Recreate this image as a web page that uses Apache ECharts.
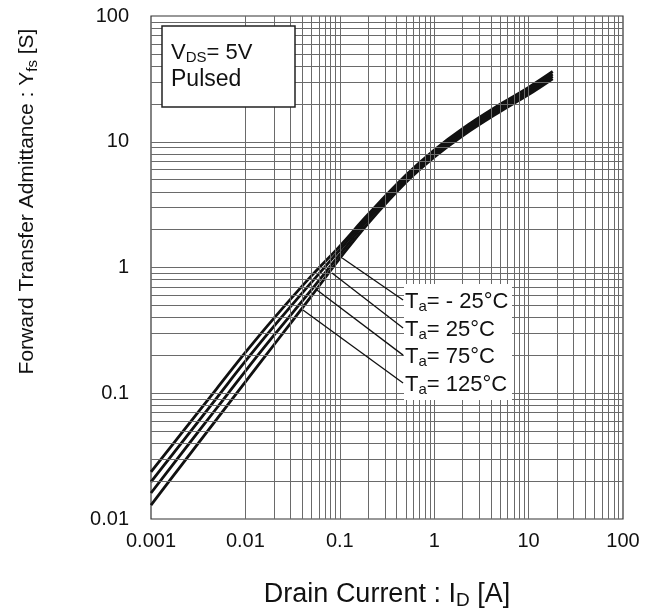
<!DOCTYPE html>
<html>
<head>
<meta charset="utf-8">
<script src="https://cdn.jsdelivr.net/npm/echarts@6/dist/echarts.min.js"></script>
<style>
html,body{margin:0;padding:0;background:#fff;}
#chart{width:656px;height:615px;}
</style>
</head>
<body>
<div id="chart"></div>
<script>
// Drain current I_D [A]
const drainCurrent = [0.001, 0.002, 0.005, 0.01, 0.02, 0.05, 0.1, 0.2, 0.5, 1, 2, 5, 10, 18];
// Forward transfer admittance Yfs [S] per ambient temperature
const yfsMinus25 = [0.0237, 0.0458, 0.1094, 0.211, 0.394, 0.857, 1.48, 2.65, 5.41, 8.6, 12.73, 19.85, 27.07, 36.2];
const yfs25      = [0.0197, 0.0383, 0.0924, 0.1797, 0.340, 0.761, 1.38, 2.53, 5.17, 8.22, 12.16, 18.96, 25.86, 34.5];
const yfs75      = [0.0161, 0.0316, 0.0767, 0.150, 0.288, 0.664, 1.27, 2.40, 4.95, 7.87, 11.64, 18.15, 24.76, 33.07];
const yfs125     = [0.0129, 0.0255, 0.0625, 0.1233, 0.242, 0.591, 1.18, 2.25, 4.74, 7.54, 11.15, 17.39, 23.71, 31.68];
const seriesNames = ['Ta= -25°C', 'Ta= 25°C', 'Ta= 75°C', 'Ta= 125°C'];
const labelTexts = ['T{s|a}= - 25°C', 'T{s|a}= 25°C', 'T{s|a}= 75°C', 'T{s|a}= 125°C'];
// leader lines (data coordinates): start on curve bundle, end at label
const leaderStart = [[0.106, 1.19], [0.0826, 0.904], [0.0573, 0.662], [0.0407, 0.459]];
const leaderEnd   = [[0.468, 0.552], [0.468, 0.330], [0.468, 0.201], [0.468, 0.1207]];
// tick labels
const xTickLabels = ['0.001', '0.01', '0.1', '1', '10', '100'];
const yTickLabels = ['0.01', '0.1', '1', '10', '100'];

const FONT = "'Liberation Sans', Arial, sans-serif";
const allY = [yfsMinus25, yfs25, yfs75, yfs125];

// minor/major grid line values (1..9 x 10^k)
const xGrid = [], yGrid = [];
for (let e = -3; e <= 1; e++) for (let m = 1; m <= 9; m++) { if (e === -3 && m === 1) continue; xGrid.push(+(m * Math.pow(10, e)).toPrecision(3)); }
for (let e = -2; e <= 1; e++) for (let m = 1; m <= 9; m++) { if (e === -2 && m === 1) continue; yGrid.push(+(m * Math.pow(10, e)).toPrecision(3)); }

const gridLineStyle = { color: '#6a6a6a', width: 1, type: 'solid' };
const gridMark = {
  silent: true, symbol: ['none', 'none'], animation: false,
  label: { show: false }, lineStyle: gridLineStyle,
  emphasis: { disabled: true },
  data: xGrid.map(v => ({ xAxis: v })).concat(yGrid.map(v => ({ yAxis: v })))
};

const series = [{
  type: 'line', name: 'grid', data: [[0.001, 0.01]], showSymbol: false, silent: true,
  lineStyle: { opacity: 0 }, z: 1, markLine: gridMark, animation: false
}];
allY.forEach((ys, i) => {
  series.push({
    type: 'line', name: seriesNames[i], smooth: 0.4, showSymbol: false, z: 3,
    data: drainCurrent.map((x, j) => [x, ys[j]]),
    lineStyle: { color: '#111', width: 2.8 },
    animation: false,
    markLine: {
      silent: true, symbol: ['none', 'none'], label: { show: false },
      lineStyle: { color: '#111', width: 1.3, type: 'solid' }, animation: false,
      data: [[{ coord: leaderStart[i] }, { coord: leaderEnd[i] }]]
    }
  });
});

const labelY = [302, 330, 357, 385];
const graphics = [
  { type: 'rect', shape: { x: 162, y: 26, width: 133, height: 81 }, style: { fill: '#fff', stroke: '#222', lineWidth: 1.5 }, z: 10 },
  { type: 'text', x: 171, y: 53, z: 11, style: { text: 'V{s|DS}= 5V', fill: '#111', font: '22px ' + FONT, verticalAlign: 'middle', rich: { s: { fontSize: 15, fontFamily: FONT, padding: [9, 0, 0, 0], fill: '#111' } } } },
  { type: 'text', x: 171, y: 80, z: 11, style: { text: 'Pulsed', fill: '#111', font: '23px ' + FONT, verticalAlign: 'middle' } },
  { type: 'rect', shape: { x: 404, y: 284, width: 108, height: 116 }, style: { fill: '#fff' }, z: 10 }
];
labelTexts.forEach((t, i) => {
  graphics.push({ type: 'text', x: 405, y: labelY[i], z: 11, style: { text: t, fill: '#111', font: '22px ' + FONT, verticalAlign: 'middle', rich: { s: { fontSize: 15, fontFamily: FONT, padding: [10, 0, 0, 0], fill: '#111' } } } });
});

const chart = echarts.init(document.getElementById('chart'), null, { renderer: 'canvas' });
chart.setOption({
  animation: false,
  backgroundColor: '#fff',
  grid: { left: 151, top: 16, right: 33, bottom: 96, show: true, borderColor: '#333', borderWidth: 1.2, backgroundColor: 'transparent' },
  xAxis: {
    type: 'log', logBase: 10, min: 0.001, max: 100, splitNumber: 5,
    axisLine: { show: false }, axisTick: { show: false }, splitLine: { show: false }, minorSplitLine: { show: false },
    axisLabel: { color: '#111', fontSize: 20, fontFamily: FONT, margin: 12, formatter: (v, i) => xTickLabels[i] },
    name: 'Drain Current : I{s|D} [A]', nameLocation: 'middle', nameGap: 60,
    nameTextStyle: { color: '#111', fontSize: 27, fontFamily: FONT, rich: { s: { fontSize: 19, fontFamily: FONT, padding: [12, 0, 0, 0], color: '#111' } } }
  },
  yAxis: {
    type: 'log', logBase: 10, min: 0.01, max: 100, splitNumber: 4,
    axisLine: { show: false }, axisTick: { show: false }, splitLine: { show: false }, minorSplitLine: { show: false },
    axisLabel: { color: '#111', fontSize: 20, fontFamily: FONT, margin: 22, formatter: (v, i) => yTickLabels[i] },
    name: 'Forward Transfer Admittance : Y{s|fs} [S]', nameLocation: 'middle', nameGap: 111,
    nameTextStyle: { color: '#111', fontSize: 21, fontFamily: FONT, padding: [0, 0, 0, 132], rich: { s: { fontSize: 15, fontFamily: FONT, padding: [10, 0, 0, 0], color: '#111' } } }
  },
  graphic: graphics,
  series: series
});
</script>
</body>
</html>
